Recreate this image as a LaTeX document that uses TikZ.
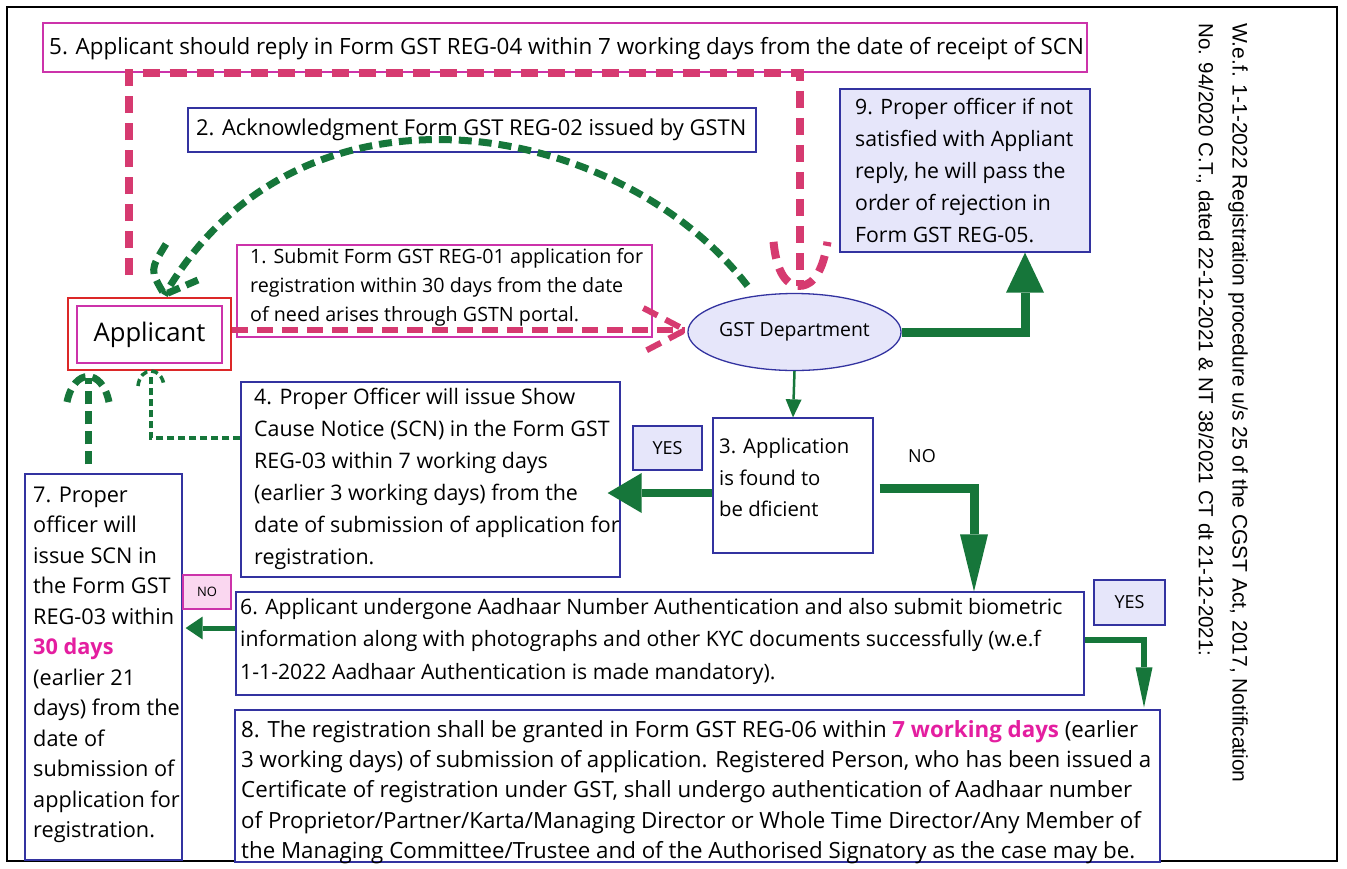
\documentclass[tikz,border=0pt]{standalone}
\usepackage{fontspec}
\setmainfont{Open Sans}
\newfontfamily\vfont{Liberation Sans}
\usetikzlibrary{arrows.meta,calc,shapes.geometric}
\definecolor{magb}{RGB}{204,51,170}
\definecolor{pinkd}{RGB}{214,58,112}
\definecolor{gr}{RGB}{22,118,58}
\definecolor{navy}{RGB}{51,51,160}
\definecolor{lav}{RGB}{230,230,250}
\definecolor{pinkf}{RGB}{250,215,240}
\definecolor{redb}{RGB}{220,40,40}
\definecolor{hl}{RGB}{228,30,160}
\begin{document}
\begin{tikzpicture}[x=1pt,y=-1pt,
 bx/.style={draw=navy,line width=1.3pt,fill=white,inner sep=0pt},
 lbx/.style={bx,fill=lav},
 mbx/.style={draw=magb,line width=1.3pt,fill=white,inner sep=0pt},
 txt/.style={inner sep=0pt,align=left,anchor=west,text=black},
 pdash/.style={draw=pinkd,line width=8pt,dash pattern=on 17pt off 10pt},
 pdashs/.style={draw=pinkd,line width=6pt,dash pattern=on 16pt off 9pt},
 gdash/.style={draw=gr,line width=7pt,dash pattern=on 13pt off 7pt},
 gdashs/.style={draw=gr,line width=3.5pt,dash pattern=on 7pt off 4pt},
 gline/.style={draw=gr,line width=#1}
]
\useasboundingbox (0,0) rectangle (1347,868);
\fill[white] (0,0) rectangle (1347,868);
\draw[line width=2.5pt] (7,7) rectangle (1337,861);

% boxes
\node[mbx,minimum width=1044pt,minimum height=49pt] (b5) at (565,47.5) {};
\node[txt,font=\fontsize{22.4}{26}\selectfont] (t5) at (49,49) {5. Applicant should reply in Form GST REG-04 within 7 working days from the date of receipt of SCN};

\node[bx,minimum width=568pt,minimum height=44pt] (b2) at (472,130) {};
\node[txt,font=\fontsize{21.9}{26}\selectfont] (t2) at (196,130) {2. Acknowledgment Form GST REG-02 issued by GSTN};

\node[lbx,minimum width=250pt,minimum height=163pt] (b9) at (965,170.5) {};
\node[txt,font=\fontsize{21.2}{32}\selectfont] (t9) at (855,171) {9. Proper officer if not\\satisfied with Appliant\\reply, he will pass the\\order of rejection in\\Form GST REG-05.};

\node[mbx,minimum width=415pt,minimum height=92pt] (b1) at (444.5,291) {};
\node[txt,font=\fontsize{19.7}{29}\selectfont] (t1) at (250,287) {1. Submit Form GST REG-01 application for\\registration within 30 days from the date\\of need arises through GSTN portal.};

\node[draw=redb,line width=1.6pt,fill=white,minimum width=163pt,minimum height=72pt,inner sep=0pt] (app) at (149.5,334) {};
\node[draw=magb,line width=1.6pt,minimum width=145pt,minimum height=57pt,inner sep=0pt,font=\fontsize{25.6}{30}\selectfont] (appin) at (149.5,334.5) {Applicant};

\node[ellipse,draw=navy,line width=1.3pt,fill=lav,minimum width=185pt,minimum height=77pt,inner sep=0pt,font=\fontsize{19.4}{22}\selectfont] (gst) at (794.5,332) {GST Department};

\node[bx,minimum width=379pt,minimum height=195pt] (b4) at (430.5,479.5) {};
\node[txt,font=\fontsize{21.4}{32}\selectfont] (t4) at (254,478.5) {4. Proper Officer will issue Show\\Cause Notice (SCN) in the Form GST\\REG-03 within 7 working days\\(earlier 3 working days) from the\\date of submission of application for\\registration.};

\node[lbx,minimum width=69pt,minimum height=44pt,font=\fontsize{18}{22}\selectfont] (yes1) at (667.5,448) {YES};

\node[bx,minimum width=160pt,minimum height=135pt] (b3) at (793,485.5) {};
\node[txt,font=\fontsize{20.3}{31.5}\selectfont] (t3) at (719,477.5) {3. Application\\is found to\\be dficient};

\node[inner sep=0pt,font=\fontsize{18}{22}\selectfont] (no1) at (922,456) {NO};

\node[bx,minimum width=157pt,minimum height=386pt] (b7) at (103.5,667) {};
\node[txt,font=\fontsize{21.7}{30.5}\selectfont] (t7) at (33,665) {7. Proper\\officer will\\issue SCN in\\the Form GST\\REG-03 within\\{\color{hl}\bfseries 30 days}\\(earlier 21\\days) from the\\date of\\submission of\\application for\\registration.};

\node[draw=magb,line width=1.2pt,fill=pinkf,minimum width=48pt,minimum height=34pt,inner sep=0pt,font=\fontsize{13}{15}\selectfont] (no2) at (207,592) {NO};

\node[bx,minimum width=848pt,minimum height=103pt] (b6) at (660,643.5) {};
\node[txt,font=\fontsize{21.2}{32.5}\selectfont] (t6) at (240,641) {6. Applicant undergone Aadhaar Number Authentication and also submit biometric\\information along with photographs and other KYC documents successfully (w.e.f\\1-1-2022 Aadhaar Authentication is made mandatory).};

\node[lbx,minimum width=71pt,minimum height=45pt,font=\fontsize{18}{22}\selectfont] (yes2) at (1129.5,602.5) {YES};

\node[bx,minimum width=925pt,minimum height=152pt] (b8) at (697.5,786) {};
\node[txt,font=\fontsize{22.3}{30.3}\selectfont] (t8) at (241,792) {8. The registration shall be granted in Form GST REG-06 within {\color{hl}\bfseries 7 working days} (earlier\\3 working days) of submission of application. Registered Person, who has been issued a\\Certificate of registration under GST, shall undergo authentication of Aadhaar number\\of Proprietor/Partner/Karta/Managing Director or Whole Time Director/Any Member of\\the Managing Committee/Trustee and of the Authorised Signatory as the case may be.};

% vertical notes
\node[txt,rotate=-90,font=\vfont\fontsize{21}{24}\selectfont] (v1) at (1238,23) {W.e.f. 1-1-2022 Registration procedure u/s 25 of the CGST Act, 2017, Notification};
\node[txt,rotate=-90,font=\vfont\fontsize{20.5}{24}\selectfont] (v2) at (1205,23) {No. 94/2020 C.T., dated 22-12-2021 \& NT 38/2021 CT dt 21-12-2021:};

% pink dashed: applicant -> form 5 -> GST department
\coordinate (p5a) at (129,275);
\path (gst.north) ++(5,0) coordinate (gtop);
\draw[pdash] (p5a) |- (gtop |- b5.south) -- ($(gtop)+(0,-7)$);
\draw[pdash] ($(gtop)+(-26,-51)$) .. controls ($(gtop)+(-22,-12)$) and ($(gtop)+(-8,-7)$) .. ($(gtop)+(0,-7)$) .. controls ($(gtop)+(8,-7)$) and ($(gtop)+(22,-12)$) .. ($(gtop)+(28,-51)$);

% pink dashed: applicant -> GST department
\draw[pdashs] ($(app.east)+(0,-4)$) -- ($(gst.west)+(-2,-2)$);
\draw[pdashs] ($(gst.west)+(-44,-24)$) -- ($(gst.west)+(-2,-2)$) -- ($(gst.west)+(-44,20)$);

% green dashed arc: GST department -> applicant (acknowledgment)
\draw[gdash] ($(gst.north)+(-47,-7)$) .. controls (620,120) and (300,60) .. ($(app.north)+(15,-2)$);
\draw[gdash] (166,244) .. controls (150,270) .. ($(app.north)+(14,-4)$);
\draw[gdash] (198,280) -- ($(app.north)+(18,-4)$);

% green thin dashed: box 4 -> applicant
\draw[gdashs] ($(b4.west)+(0,-41.5)$) -| ($(app.south)+(1.5,3)$);
\draw[gdashs] (138,386) .. controls (140,366) and (162,366) .. (164,386);

% green dashed: box 7 -> applicant
\draw[gdash] ($(b7.north)+(-15.5,-9)$) -- ($(app.south)+(-61.5,7)$);
\draw[gdash] (67,402) .. controls (74,368) and (102,368) .. (109,402);

% solid green arrows
\draw[gline=2.5pt,-{Triangle[width=16pt,length=18pt,line width=0pt]}] (gst.south) -- (b3.north);
\draw[gline=8pt,-{Triangle[width=40pt,length=34pt,line width=0pt]}] ($(b3.west)+(0,7.5)$) -- ($(b4.east)+(-13,13.5)$);
\draw[gline=9pt,-{Triangle[width=28pt,length=57pt,line width=0pt]}] ($(b3.east)+(6,2.5)$) -| ($(b6.north)+(314,0)$);
\draw[gline=9pt,-{Triangle[width=38pt,length=40pt,line width=0pt]}] (gst.east) -| ($(b9.south)+(60,0)$);
\draw[gline=5pt,-{Triangle[width=23pt,length=17pt,line width=0pt]}] ($(b6.west)+(0,-15.5)$) -- ($(b7.east)+(3,-39)$);
\draw[gline=6pt,-{Triangle[width=17pt,length=40pt,line width=0pt]}] ($(b6.east)+(0,-3.5)$) -| ($(b8.north)+(446.5,-2)$);
\end{tikzpicture}
\end{document}
